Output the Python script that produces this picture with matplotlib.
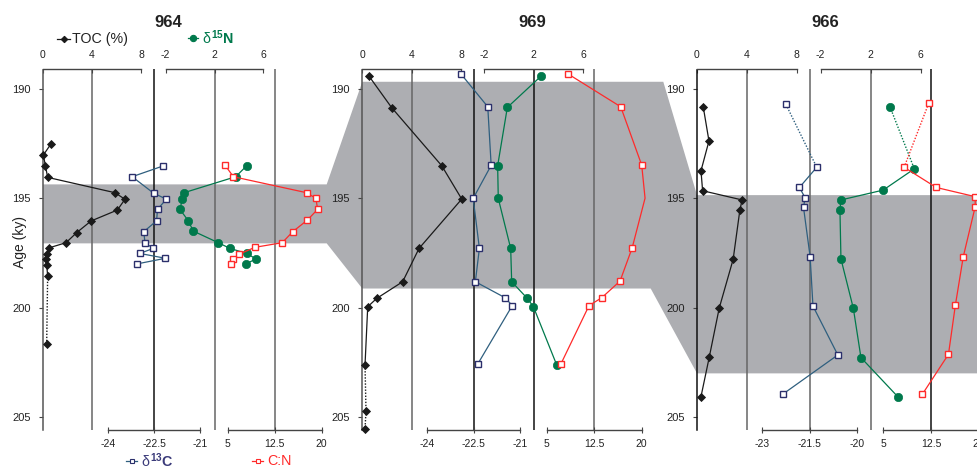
import matplotlib
matplotlib.use('Agg')
import matplotlib.pyplot as plt
from matplotlib.lines import Line2D
from matplotlib.patches import Polygon

plt.rcParams['font.family'] = ['Liberation Sans', 'DejaVu Sans']
plt.rcParams['axes.unicode_minus'] = False
plt.rcParams['mathtext.fontset'] = 'custom'
plt.rcParams['mathtext.rm'] = 'Liberation Sans'
plt.rcParams['mathtext.bf'] = 'Liberation Sans:bold'
plt.rcParams['mathtext.it'] = 'Liberation Sans'

# ---------------- data ----------------
sites = ['964', '969', '966']

# Site 964
toc_964_age = [192.54, 193.03, 193.53, 194.05, 194.75, 195.05, 195.54, 196.04, 196.57, 197.03, 197.26, 197.56, 197.79, 198.05, 198.53, 201.66]
toc_964 = [0.63, 0.03, 0.20, 0.38, 5.88, 6.69, 6.07, 3.92, 2.75, 1.88, 0.52, 0.30, 0.22, 0.30, 0.38, 0.30]
d13c_964_age = [193.53, 194.02, 194.78, 195.04, 195.51, 196.03, 196.53, 197.03, 197.29, 197.52, 197.74, 198.0]
d13c_964 = [-22.21, -23.22, -22.51, -22.10, -22.39, -22.42, -22.84, -22.80, -22.53, -22.97, -22.13, -23.07]
d15n_964_age = [193.52, 194.02, 194.75, 195.04, 195.51, 196.03, 196.5, 197.03, 197.29, 197.52, 197.77, 198.0]
d15n_964 = [4.64, 3.74, -0.50, -0.64, -0.83, -0.15, 0.26, 2.31, 3.27, 4.64, 5.40, 4.56]
cn_964_age = [193.49, 194.02, 194.75, 195.01, 195.51, 196.0, 196.53, 197.03, 197.24, 197.55, 197.79, 198.02]
cn_964 = [4.57, 5.9, 17.6, 19.08, 19.35, 17.7, 15.37, 13.7, 9.35, 6.85, 5.8, 5.48]

# Site 969
toc_969_age = [189.43, 190.87, 193.52, 195.04, 197.29, 198.81, 199.57, 199.95, 202.61, 204.69, 205.54]
toc_969 = [0.54, 2.38, 6.44, 8.06, 4.6, 3.27, 1.17, 0.44, 0.22, 0.3, 0.22]
d13c_969_age = [189.34, 190.83, 193.5, 195.01, 197.29, 198.81, 199.54, 199.9, 202.58]
d13c_969 = [-22.90, -22.04, -21.93, -22.51, -22.31, -22.44, -21.48, -21.25, -22.37]
d15n_969_age = [189.43, 190.86, 193.52, 195.01, 197.29, 198.81, 199.57, 199.95, 202.61]
d15n_969 = [2.6, -0.12, -0.9, -0.85, 0.15, 0.23, 1.49, 1.98, 3.86]
cn_969_age = [189.34, 190.83, 193.49, 195.0, 197.26, 198.78, 199.54, 199.9, 202.58]
cn_969 = [8.41, 16.69, 20.0, 20.53, 18.5, 16.58, 13.69, 11.68, 7.21]

# Site 966
toc_966_age = [190.83, 192.39, 193.75, 194.66, 195.08, 195.54, 197.79, 200.02, 202.26, 204.05]
toc_966 = [0.5, 0.96, 0.32, 0.45, 3.62, 3.44, 2.9, 1.78, 0.98, 0.32]
d13c_966_age = [190.72, 193.59, 194.51, 194.98, 195.42, 197.67, 199.92, 202.15, 203.94]
d13c_966 = [-22.25, -21.27, -21.82, -21.64, -21.69, -21.48, -21.39, -20.6, -22.35]
d15n_966_age = [190.83, 193.66, 194.63, 195.08, 195.54, 197.77, 200.02, 202.27, 204.05]
d15n_966 = [3.54, 5.49, 3.0, -0.38, -0.46, -0.38, 0.61, 1.22, 4.16]
cn_966_age = [190.68, 193.59, 194.51, 194.93, 195.39, 197.67, 199.87, 202.12, 203.94]
cn_966 = [12.14, 8.28, 13.34, 19.48, 19.48, 17.6, 16.36, 15.27, 11.16]

# shaded interval (age top, age bottom) per site
band_964 = (194.37, 197.06)
band_969 = (189.69, 199.12)
band_966 = (194.86, 202.99)

# tick values / labels
age_ticks = [190, 195, 200, 205]
toc_ticks = [0, 4, 8]
d15n_ticks = [-2, 2, 6]
d13c_ticks_a = [-24, -22.5, -21]
d13c_ticks_b = [-23, -21.5, -20]
cn_ticks = [5, 12.5, 20]

# ---------------- layout ----------------
W, H = 977, 469
fig = plt.figure(figsize=(W / 100, H / 100), dpi=100)

AGE_TOP, AGE_BOT = 189.13, 205.55
Y_TOP_PX, Y_BOT_PX = 69.5, 429.5
fb = 1 - Y_BOT_PX / H
fh = (Y_BOT_PX - Y_TOP_PX) / H


def fx(x):
    return x / W


def fy(y):
    return 1 - y / H


# pixel spans of each variable's scale in each panel
layout = {
    '964': dict(toc=(43, 141), d13c=(108.3, 200), d15n=(165.7, 263.3), cn=(227.7, 321.7)),
    '969': dict(toc=(362.3, 461), d13c=(427, 520), d15n=(484, 583.3), cn=(546.7, 641.7)),
    '966': dict(toc=(697, 796.7), d13c=(762.3, 856.7), d15n=(820.7, 920.7), cn=(883.3, 978.5)),
}
title_x = {'964': 168, '969': 532, '966': 825}
line_cols = {
    '964': dict(toc='#666666', d13c='#111111', d15n='#666666', cn='#666666'),
    '969': dict(toc='#666666', d13c='#111111', d15n='#111111', cn='#666666'),
    '966': dict(toc='#666666', d13c='#666666', d15n='#666666', cn='#111111'),
}
axis_col = {'964': '#555555', '969': '#555555', '966': '#111111'}

BAND = '#adaeb2'
C_TOC = '#1a1a1a'
C_13L = '#2f5f7f'
C_13M = '#2b2f6b'
C_15 = '#00794c'
C_CN = '#ff2a2a'

# ---------------- gray band ----------------
bg = fig.add_axes([0, fb, 1, fh], zorder=0)
bg.set_xlim(0, W)
bg.set_ylim(AGE_BOT, AGE_TOP)
bg.axis('off')
x964 = layout['964']['toc'][0]
x969 = layout['969']['toc'][0]
x966 = layout['966']['toc'][0]
poly = [
    (x964, band_964[0]), (x964 + 283.7, band_964[0]),
    (x969, band_969[0]), (x969 + 301, band_969[0]),
    (x966, band_966[0]), (W, band_966[0]),
    (W, band_966[1]), (x966, band_966[1]),
    (x969 + 288.4, band_969[1]), (x969, band_969[1]),
    (x964 + 283.7, band_964[1]), (x964, band_964[1]),
]
bg.add_patch(Polygon(poly, closed=True, facecolor=BAND, edgecolor='none'))

series = {
    '964': dict(toc=(toc_964, toc_964_age), d13c=(d13c_964, d13c_964_age),
                d15n=(d15n_964, d15n_964_age), cn=(cn_964, cn_964_age)),
    '969': dict(toc=(toc_969, toc_969_age), d13c=(d13c_969, d13c_969_age),
                d15n=(d15n_969, d15n_969_age), cn=(cn_969, cn_969_age)),
    '966': dict(toc=(toc_966, toc_966_age), d13c=(d13c_966, d13c_966_age),
                d15n=(d15n_966, d15n_966_age), cn=(cn_966, cn_966_age)),
}
# dotted segments: (start index, end index) inclusive ranges drawn dotted
dotted = {
    ('964', 'toc'): (14, 15),
    ('969', 'toc'): (8, 10),
    ('966', 'd13c'): (0, 1),
    ('966', 'd15n'): (0, 1),
    ('966', 'cn'): (0, 1),
}
no_marker = {('969', 'cn'): [3]}

styles = {
    'toc': dict(color=C_TOC, marker='D', ms=4.3, mfc=C_TOC, mec=C_TOC, mew=0.6),
    'd13c': dict(color=C_13L, marker='s', ms=4.2, mfc='white', mec=C_13M, mew=1.0),
    'd15n': dict(color=C_15, marker='o', ms=6, mfc=C_15, mec=C_15, mew=0.5),
    'cn': dict(color=C_CN, marker='s', ms=4.2, mfc='white', mec=C_CN, mew=1.0),
}


def make_axes(x0, x1, lim, zorder):
    ax = fig.add_axes([fx(x0), fb, fx(x1 - x0), fh], zorder=zorder)
    ax.set_xlim(lim)
    ax.set_ylim(AGE_BOT, AGE_TOP)
    ax.patch.set_visible(False)
    for s in ax.spines.values():
        s.set_visible(False)
    ax.tick_params(which='both', length=0)
    ax.set_xticks([])
    ax.set_yticks([])
    return ax


for site in sites:
    lay = layout[site]
    d13c_ticks = d13c_ticks_a if site != '966' else d13c_ticks_b
    ticks = dict(toc=toc_ticks, d13c=d13c_ticks, d15n=d15n_ticks, cn=cn_ticks)
    for key in ['toc', 'd13c', 'd15n', 'cn']:
        t = ticks[key]
        x0, x1 = lay[key]
        ax = make_axes(x0, x1, (t[0], t[-1]), 1)
        ax.axvline(t[1], color=line_cols[site][key], lw=1.1, zorder=1)
        top = key in ('toc', 'd15n')
        sp = ax.spines['top' if top else 'bottom']
        sp.set_visible(True)
        sp.set_color('#444444')
        sp.set_linewidth(1.0)
        ax.set_xticks(t)
        ax.set_xticklabels([('%g' % v) for v in t])
        if top:
            ax.xaxis.set_ticks_position('top')
            ax.xaxis.set_label_position('top')
            ax.tick_params(axis='x', direction='in', length=3, width=0.8,
                           color='#444444', labelsize=7.5, pad=6.5,
                           labelcolor='#222222')
        else:
            ax.tick_params(axis='x', direction='inout', length=5, width=0.8,
                           color='#444444', labelsize=7.5, pad=4,
                           labelcolor='#222222')
        if key == 'toc':
            lsp = ax.spines['left']
            lsp.set_visible(True)
            lsp.set_color(axis_col[site])
            lsp.set_linewidth(1.1)
            ax.set_yticks(age_ticks)
            ax.set_yticklabels([str(a) for a in age_ticks])
            ax.tick_params(axis='y', direction='out', length=3, width=0.8,
                           color='#444444', labelsize=8, pad=6,
                           labelcolor='#222222')

    # data layer
    for key in ['toc', 'd13c', 'd15n', 'cn']:
        t = ticks[key]
        x0, x1 = lay[key]
        ax = make_axes(x0, x1, (t[0], t[-1]), 2)
        vals, ages = series[site][key]
        st = styles[key]
        n = len(vals)
        dot = dotted.get((site, key))
        solid_idx = list(range(n))
        if dot is not None:
            a, b = dot
            ax.plot(vals[a:b + 1], ages[a:b + 1], linestyle=(0, (1, 1.2)),
                    color=st['color'], lw=1.0, clip_on=False, zorder=2)
            if a == 0:
                solid_idx = list(range(b, n))
            else:
                solid_idx = list(range(0, a + 1))
        sv = [vals[i] for i in solid_idx]
        sa = [ages[i] for i in solid_idx]
        ax.plot(sv, sa, '-', color=st['color'], lw=0.9, clip_on=False, zorder=2)
        mk = [i for i in range(n) if i not in no_marker.get((site, key), [])]
        ax.plot([vals[i] for i in mk], [ages[i] for i in mk], linestyle='none',
                marker=st['marker'], ms=st['ms'], mfc=st['mfc'], mec=st['mec'],
                mew=st['mew'], clip_on=False, zorder=3)

    fig.text(fx(title_x[site]), fy(22.5), site, ha='center', va='center',
             fontsize=12, fontweight='bold', color='#222222')

# ---------------- legend labels ----------------
def legend_item(x0, x1, y, key, label, color, tx, weight='normal'):
    st = styles[key]
    xm = (x0 + x1) / 2
    ln = Line2D([fx(x0), fx(xm), fx(x1)], [fy(y)] * 3, transform=fig.transFigure,
                color=st['color'], lw=0.9, marker=st['marker'],
                ms=st['ms'] * 0.75, mfc=st['mfc'], mec=st['mec'], mew=0.8,
                markevery=[1])
    fig.add_artist(ln)
    fig.text(fx(tx), fy(y), label, ha='left', va='center', fontsize=10.3,
             color=color, fontweight=weight)


legend_item(57, 70, 39, 'toc', 'TOC (%)', '#222222', 72)
legend_item(188, 198, 38, 'd15n', r'$\delta^{\mathbf{15}}\mathbf{N}$', C_15, 202)
legend_item(126, 137, 461, 'd13c', r'$\delta^{\mathbf{13}}\mathbf{C}$', '#3b3b7a', 141)
legend_item(252, 263, 461, 'cn', 'C:N', C_CN, 267)

fig.text(fx(20), fy(242), 'Age (ky)', rotation=90, ha='center', va='center',
         fontsize=10, color='#222222')

fig.savefig('out.png', dpi=100)
